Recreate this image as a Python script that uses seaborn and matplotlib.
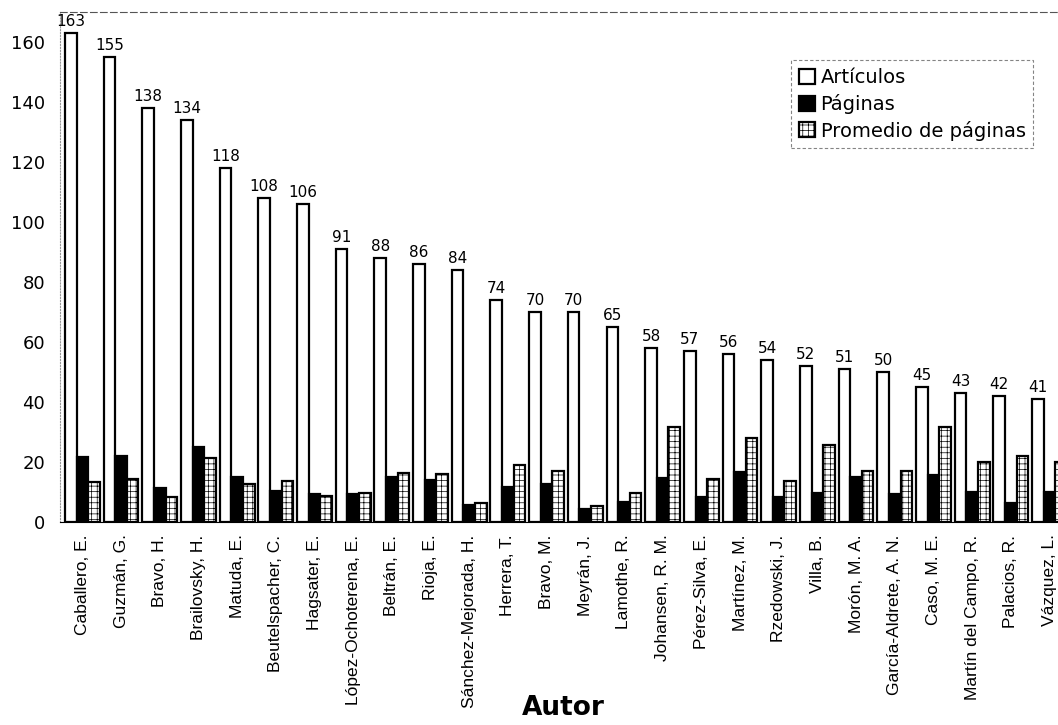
import pandas as pd
import seaborn as sns
import matplotlib.pyplot as plt

autores = ["Caballero, E.", "Guzmán, G.", "Bravo, H.", "Brailovsky, H.", "Matuda, E.",
           "Beutelspacher, C.", "Hagsater, E.", "López-Ochoterena, E.", "Beltrán, E.",
           "Rioja, E.", "Sánchez-Mejorada, H.", "Herrera, T.", "Bravo, M.", "Meyrán, J.",
           "Lamothe, R.", "Johansen, R. M.", "Pérez-Silva, E.", "Martínez, M.",
           "Rzedowski, J.", "Villa, B.", "Morón, M. A.", "García-Aldrete, A. N.",
           "Caso, M. E.", "Martín del Campo, R.", "Palacios, R.", "Vázquez, L."]
articulos = [163, 155, 138, 134, 118, 108, 106, 91, 88, 86, 84, 74, 70, 70, 65,
             58, 57, 56, 54, 52, 51, 50, 45, 43, 42, 41]
paginas = [21.8, 22, 11.4, 24.9, 14.9, 10.3, 9.3, 9.2, 15.1, 14, 5.7, 11.8, 12.6, 4.2,
           6.7, 14.6, 8.4, 16.8, 8.4, 9.6, 14.9, 9.3, 15.7, 9.9, 6.3, 10.1]
promedio = [13.4, 14.3, 8.4, 21.4, 12.6, 13.7, 8.8, 9.8, 16.4, 15.9, 6.4, 19, 17, 5.3,
            9.7, 31.6, 14.2, 27.9, 13.8, 25.7, 17, 17, 31.8, 19.9, 22.1, 20.1]
series = ["Artículos", "Páginas", "Promedio de páginas"]

df = pd.DataFrame({
    "autor": autores * 3,
    "valor": articulos + paginas + promedio,
    "serie": [series[0]] * len(autores) + [series[1]] * len(autores) + [series[2]] * len(autores),
})

sns.set_style("white")
plt.rcParams["font.family"] = ["DejaVu Sans"]
plt.rcParams["hatch.linewidth"] = 0.5
plt.rcParams["text.color"] = "black"
plt.rcParams["xtick.color"] = "black"
plt.rcParams["ytick.color"] = "black"

fig = plt.figure(figsize=(10.58, 7.25), dpi=100)
ax = fig.add_axes([0.057, 0.28, 0.943, 0.703])

sns.barplot(data=df, x="autor", y="valor", hue="serie", order=autores, hue_order=series,
            palette={series[0]: "white", series[1]: "black", series[2]: "white"},
            edgecolor="black", linewidth=1.6, width=0.9, gap=0, ax=ax, legend=False)

for p in ax.containers[2].patches:
    p.set_hatch("|||---")

ax.bar_label(ax.containers[0], padding=3, fontsize=11, color="black")

ax.set_xlim(-0.57, 25.22)
ax.set_ylim(0, 170)
ax.set_yticks(range(0, 161, 20))
ax.set_xlabel("")
ax.set_ylabel("")
ax.tick_params(axis="y", labelsize=13, length=3, pad=8, colors="black")
ax.tick_params(axis="x", length=0, pad=9, colors="black")
ax.set_xticks(range(len(autores)))
ax.set_xticklabels(autores, rotation=90, fontsize=12.5, family=["Liberation Sans"])

ax.spines["right"].set_visible(False)
ax.spines["top"].set_linestyle((0, (6, 3)))
ax.spines["top"].set_color("#555555")
ax.spines["top"].set_linewidth(0.8)
ax.spines["left"].set_linestyle(":")
ax.spines["left"].set_color("#999999")
ax.spines["bottom"].set_color("black")
ax.spines["bottom"].set_linewidth(0.8)

leg = ax.legend(ax.containers, series, loc="upper right", bbox_to_anchor=(0.985, 0.925),
                fontsize=14, frameon=True, fancybox=False, handlelength=0.8,
                handleheight=0.8, handletextpad=0.3, labelspacing=0.35, borderpad=0.4)
leg.get_frame().set_edgecolor("#666666")
leg.get_frame().set_linestyle((0, (3, 2)))
leg.get_frame().set_linewidth(0.8)
for t in leg.get_texts():
    t.set_color("black")

fig.text(0.532, 0.006, "Autor", ha="center", va="bottom", fontsize=19, weight="bold",
         color="black")

plt.savefig("out.png", dpi=100)
